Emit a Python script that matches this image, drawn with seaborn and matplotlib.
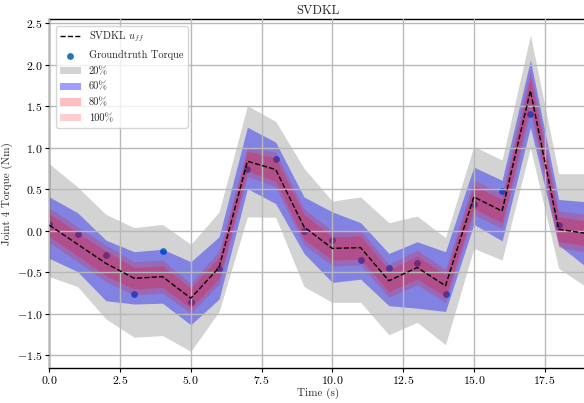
import numpy as np
import pandas as pd
import matplotlib
matplotlib.use("Agg")
import matplotlib.pyplot as plt
import seaborn as sns

# ---- data ----
time = [0, 1, 2, 3, 4, 5, 6, 7, 8, 9, 10, 11, 12, 13, 14, 15, 16, 17, 18, 19]
mean_uff = [0.07, -0.16, -0.39, -0.57, -0.55, -0.81, -0.44, 0.84, 0.74, 0.05,
            -0.21, -0.20, -0.60, -0.44, -0.66, 0.41, 0.24, 1.69, 0.02, -0.03]
groundtruth = [0.08, -0.04, -0.29, -0.76, -0.245, -0.855, -0.46, 0.75, 0.87, 0.0,
               -0.11, -0.35, -0.44, -0.39, -0.76, 0.33, 0.48, 1.41, 0.07, -0.08]
gray_upper = [0.81, 0.53, 0.20, 0.04, 0.08, -0.16, 0.23, 1.51, 1.32, 0.755,
              0.36, 0.41, 0.10, 0.18, -0.08, 1.02, 0.855, 2.36, 0.69, 0.69]
gray_lower = [-0.55, -0.67, -1.06, -1.28, -1.26, -1.45, -0.97, 0.17, 0.165, -0.67,
              -0.86, -0.86, -1.25, -1.10, -1.37, -0.21, -0.35, 1.0, -0.45, -0.68]
blue_upper = [0.41, 0.22, -0.11, -0.25, -0.22, -0.37, -0.07, 1.25, 1.07, 0.41,
              0.23, 0.10, -0.27, -0.13, -0.25, 0.77, 0.61, 2.06, 0.38, 0.35]
blue_lower = [-0.33, -0.49, -0.84, -0.88, -0.87, -1.13, -0.82, 0.51, 0.33, -0.27,
              -0.62, -0.58, -0.90, -0.93, -0.97, 0.08, -0.12, 1.25, -0.17, -0.44]
pink_halfwidth = [0.21, 0.21, 0.22, 0.20, 0.20, 0.18, 0.20, 0.18, 0.21, 0.22,
                  0.21, 0.21, 0.20, 0.21, 0.20, 0.21, 0.21, 0.26, 0.22, 0.23]
red_halfwidth = [0.14, 0.14, 0.15, 0.13, 0.13, 0.12, 0.13, 0.12, 0.14, 0.15,
                 0.14, 0.14, 0.13, 0.14, 0.13, 0.14, 0.14, 0.16, 0.15, 0.15]
band_labels = ["20%", "60%", "80%", "100%"]
x_ticks = [0.0, 2.5, 5.0, 7.5, 10.0, 12.5, 15.0, 17.5]
y_ticks = [-1.5, -1.0, -0.5, 0.0, 0.5, 1.0, 1.5, 2.0, 2.5]

df = pd.DataFrame({"time": time, "mean": mean_uff, "gt": groundtruth})
m = np.array(mean_uff)

sns.set_style("whitegrid")
plt.rcParams.update({
    "font.family": "serif",
    "font.serif": ["cmr10", "DejaVu Serif"],
    "mathtext.fontset": "cm",
    "axes.formatter.use_mathtext": True,
    "axes.edgecolor": "black",
    "axes.linewidth": 1.0,
    "grid.color": "#b8b8b8",
    "grid.linewidth": 1.0,
    "xtick.bottom": True,
    "ytick.left": True,
    "xtick.color": "black",
    "ytick.color": "black",
    "axes.unicode_minus": True,
})

fig = plt.figure(figsize=(5.84, 4.03), dpi=100)
ax = fig.add_axes([49.3 / 584, 35.3 / 403, (587 - 49.3) / 584, 348.4 / 403])

# gray band first (behind points)
ax.fill_between(time, gray_lower, gray_upper, color="#d3d3d3", linewidth=0,
                zorder=0.8, label=band_labels[0])
sns.lineplot(data=df, x="time", y="mean", ax=ax, color="black", linestyle="--",
             linewidth=1.0, zorder=3, label="SVDKL $u_{ff}$")
sns.scatterplot(data=df, x="time", y="gt", ax=ax, color="#1f77b4", s=24, linewidth=0,
                zorder=0.9, label="Groundtruth Torque")
ax.fill_between(time, blue_lower, blue_upper, color="blue", alpha=0.38,
                linewidth=0, zorder=1, label=band_labels[1])
ax.fill_between(time, m - np.array(red_halfwidth), m + np.array(red_halfwidth),
                color="red", alpha=0.25, linewidth=0, zorder=1.1, label=band_labels[2])
ax.fill_between(time, m - np.array(pink_halfwidth), m + np.array(pink_halfwidth),
                color="red", alpha=0.19, linewidth=0, zorder=1.05, label=band_labels[3])

ax.set_axisbelow(False)
ax.grid(True, zorder=2.5)
ax.set_xlim(0, 19)
ax.set_ylim(-1.647, 2.55)
ax.set_xticks(x_ticks)
ax.set_yticks(y_ticks)
ax.tick_params(labelsize=8.5, length=2.8, width=0.8, pad=1.8)
ax.set_xlabel("Time (s)", fontsize=8, labelpad=1.5)
ax.set_ylabel("Joint 4 Torque (Nm)", fontsize=8, labelpad=3)
ax.set_title("SVDKL", fontsize=9, pad=4)

handles, labels = ax.get_legend_handles_labels()
order = ["SVDKL $u_{ff}$", "Groundtruth Torque"] + band_labels
hmap = dict(zip(labels, handles))
ax.legend([hmap[l] for l in order], order, loc="upper left", fontsize=7.5,
          frameon=True, framealpha=0.8, edgecolor="#cccccc", fancybox=True,
          labelspacing=0.6, borderaxespad=0.6)

fig.savefig("out.png", dpi=100)
